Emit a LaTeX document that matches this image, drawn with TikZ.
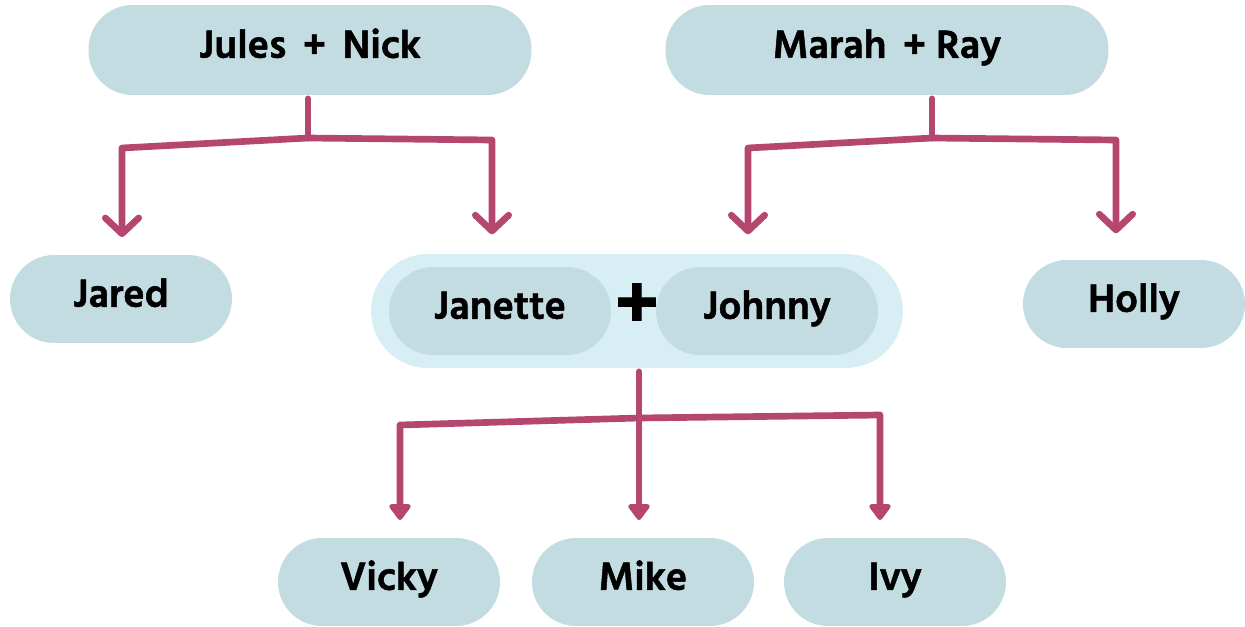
\documentclass[tikz,border=0pt]{standalone}
\usepackage{fontspec}
\setmainfont{Hind Siliguri}[BoldFeatures={FakeBold=1.2}]
\usetikzlibrary{arrows.meta}

\definecolor{boxblue}{HTML}{C3DCE1}
\definecolor{paleblue}{HTML}{D7EEF4}
\definecolor{linkred}{HTML}{B5466F}

\newcommand{\namefont}{\fontsize{23}{26}\selectfont\bfseries}

\tikzset{
  person/.style={fill=boxblue, rounded corners=0.88cm, minimum width=4.44cm,
    minimum height=1.76cm, inner sep=0pt, text height=14pt, text depth=5pt,
    font=\namefont},
  pair/.style={person, minimum width=8.86cm, minimum height=1.8cm},
  couplebox/.style={fill=paleblue, rounded corners=1.14cm, minimum width=10.64cm,
    minimum height=2.28cm, inner sep=0pt},
  link/.style={draw=linkred, line width=3.8pt, line cap=round, line join=round},
  openarrow/.style={link, -{Straight Barb[length=9pt, width=19pt, line cap=round, line join=round]}},
  fullarrow/.style={link, -{Triangle[length=10pt, width=14pt, round]}}
}

\begin{document}
\begin{tikzpicture}[x=0.02cm, y=-0.02cm]
  \useasboundingbox (0,0) rectangle (1245,626);

  % the parents
  \node[pair] (jules) at (310,50) {Jules\,\ +\,\ Nick};
  \node[pair] (marah) at (887,50) {Marah\,\ +\ Ray};

  % the children of both couples
  \node[person] (jared) at (121,299) {Jared};
  \node[couplebox] (couple) at (637,311) {};
  \node[person] (janette) at (500,311) {Janette};
  \node[person] (johnny) at (767,311) {Johnny};
  \node[font=\fontsize{44}{44}\selectfont\bfseries, inner sep=0pt] (plus) at (637,306) {+};
  \node[person] (holly) at (1134,304) {Holly};

  % the grandchildren
  \node[person] (vicky) at (389,582) {Vicky};
  \node[person] (mike) at (643,582) {Mike};
  \node[person] (ivy) at (895,582) {Ivy};

  % branch points of the tree
  \coordinate (jn bar) at (308,138);
  \coordinate (jn left) at (122,148);
  \coordinate (jn right) at (492,140);
  \coordinate (mr bar) at (932,138);
  \coordinate (mr left) at (748,148);
  \coordinate (mr right) at (1116,140);
  \coordinate (jj bar) at (639,418);
  \coordinate (jj left) at (400,425);
  \coordinate (jj right) at (880,415);

  % Jules and Nick
  \draw[link, shorten <=2pt] (jn bar |- jules.south) -- (jn bar);
  \draw[openarrow, shorten >=10pt] (jn bar) -- (jn left) -- (jn left |- jared.north);
  \draw[openarrow, shorten >=11pt] (jn bar) -- (jn right) -- (jn right |- couple.north);

  % Marah and Ray
  \draw[link, shorten <=2pt] (mr bar |- marah.south) -- (mr bar);
  \draw[openarrow, shorten >=11pt] (mr bar) -- (mr left) -- (mr left |- couple.north);
  \draw[openarrow, shorten >=15pt] (mr bar) -- (mr right) -- (mr right |- holly.north);

  % Janette and Johnny
  \draw[link, shorten <=2pt] (jj bar |- couple.south) -- (jj bar);
  \draw[fullarrow, shorten >=10pt] (jj bar) -- (jj left) -- (jj left |- vicky.north);
  \draw[fullarrow, shorten >=10pt] (jj bar) -- (jj bar |- mike.north);
  \draw[fullarrow, shorten >=10pt] (jj bar) -- (jj right) -- (jj right |- ivy.north);
\end{tikzpicture}
\end{document}
